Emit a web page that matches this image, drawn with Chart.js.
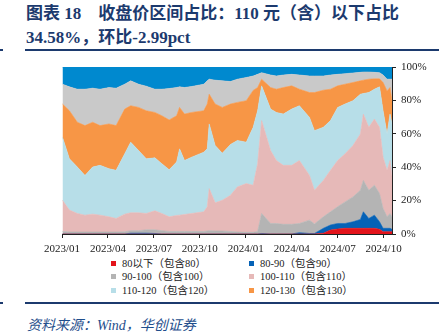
<!DOCTYPE html>
<html>
<head>
<meta charset="utf-8">
<script src="https://cdn.jsdelivr.net/npm/chart.js@4/dist/chart.umd.min.js"></script>
<style>
  html, body { margin: 0; padding: 0; background: #fff; }
  body { width: 445px; height: 334px; position: relative; overflow: hidden; }
  .title {
    position: absolute; left: 26px; top: 2px; width: 420px;
    font-family: 'Liberation Serif', 'Noto Sans CJK SC', serif;
    font-weight: bold; font-size: 17px; line-height: 24px; color: #1c3a6e;
    white-space: pre;
  }
  .rule { position: absolute; height: 2px; background: #1c3a6e; }
  #wrap { position: absolute; left: 0; top: 55px; width: 445px; height: 200px; }
  #legend {
    position: absolute; left: 111px; top: 257px; width: 300px;
    display: grid; grid-template-columns: 138px 150px; row-gap: 0;
    font-family: 'Liberation Serif', 'Noto Sans CJK SC', serif;
    font-size: 10.5px; line-height: 13.4px; color: #222;
  }
  #legend span.box { display: inline-block; width: 5px; height: 5px; margin-right: 6px; vertical-align: 1px; }
  .source {
    position: absolute; left: 27px; top: 314px;
    font-family: 'Liberation Serif', 'Noto Sans CJK SC', serif;
    font-style: italic; font-size: 14px; color: #1f4e8c;
  }
</style>
</head>
<body>
<div class="title">图表 18    收盘价区间占比：110 元（含）以下占比
34.58%，环比-2.99pct</div>
<div class="rule" style="left:0;top:49px;width:3px;"></div>
<div class="rule" style="left:25px;top:49px;width:414px;"></div>
<div id="wrap"><canvas id="areaChart"></canvas></div>
<div id="legend"></div>
<div class="rule" style="left:0;top:302px;width:3px;"></div>
<div class="rule" style="left:25px;top:302px;width:414px;"></div>
<div class="source">资料来源：Wind，华创证券</div>
<script>
// trading dates sampled from the chart
const dates = ['2023-01-02','2023-01-16','2023-02-01','2023-02-15','2023-03-01','2023-03-16','2023-04-03','2023-04-17',
  '2023-05-04','2023-05-16','2023-06-01','2023-06-16','2023-07-03','2023-07-17','2023-08-01','2023-08-16','2023-08-22',
  '2023-09-01','2023-09-15','2023-10-09','2023-10-16','2023-10-20','2023-11-01','2023-11-15','2023-12-01','2023-12-15',
  '2024-01-02','2024-01-16','2024-01-25','2024-02-02','2024-02-19','2024-03-01','2024-03-15','2024-04-01','2024-04-16',
  '2024-05-06','2024-05-16','2024-06-03','2024-06-17','2024-07-01','2024-07-16','2024-08-01','2024-08-16','2024-08-22',
  '2024-09-02','2024-09-13','2024-09-23','2024-09-30','2024-10-08','2024-10-14','2024-10-18'];

// share of each price bucket (%)
const below80 = [0,0,0,0,0,0,0,0, 0,0,0,0,0,0,0,0,0, 0,0,0,0,0,0,0,0,0,
  0,0,0,0,0,0,0,0,0, 0,0,0.5,2.4,3.0,3.4,3.4,3.4,3.4, 3.4,3.4,2.8,1.4,1.4,1.4,1.4];
const p80to90 = [0,0,0,0,0,0,0,0, 0,0.5,0.5,0.5,0.3,0,0,0,0, 0,0,0,0,0,0,0,0,0,
  0,0,0,0.3,0,0,0,0,0.8, 0.3,0.3,2.9,3.0,3.3,2.9,3.9,5.3,9.9, 5.9,7.9,4.5,2.0,2.0,2.0,1.4];
const p90to100 = [1.5,1.2,1.2,1.2,1.2,1.2,1.2,1.2, 1.3,1.5,1.5,2.0,2.2,2.0,1.5,1.5,1.5, 1.5,1.5,1.5,1.8,2.0,1.8,1.8,1.5,1.2,
  1.0,1.0,1.5,12.0,6.3,6.3,5.8,5.8,5.5, 8.0,5.7,6.9,7.9,10.0,12.9,14.9,17.5,18.8, 16.9,17.9,16.9,11.9,6.9,8.9,7.5];
const p100to110 = [18.7,13.1,11.1,10.1,10.7,10.1,9.1,8.1, 10.6,10.7,10.7,9.8,11.4,10.3,8.8,9.6,9.8, 10.2,10.8,11.8,14.5,25.2,16.9,18.4,21.7,27.0,
  29.2,28.2,40.6,55.6,43.7,37.7,35.3,35.3,37.7, 26.8,20.2,21.8,24.8,27.7,28.8,30.8,33.7,39.7, 37.7,39.6,39.7,30.7,27.8,31.7,24.3];
const p110to120 = [37.7,30.7,27.8,23.8,28.2,29.8,28.8,28.8, 36.1,42.3,37.3,32.7,31.7,29.8,28.2,32.0,39.7, 32.3,33.7,35.7,34.7,38.7,34.3,28.2,30.4,27.8,
  24.8,34.7,31.7,20.8,24.8,28.8,30.7,33.7,32.8, 34.7,35.7,31.8,29.8,31.8,29.8,26.8,23.8,12.3, 20.8,17.9,24.2,27.8,21.8,27.8,31.3];
const p120to130 = [19.9,28.8,26.8,29.8,26.8,23.8,26.8,26.8, 26.8,21.8,25.8,28.8,27.2,28.7,29.8,27.7,24.8, 27.8,26.8,24.8,26.8,17.8,24.8,27.4,24.2,22.8,
  24.8,22.1,13.9,4.0,12.9,13.9,15.9,13.9,9.9, 14.9,22.8,22.2,18.8,12.9,11.9,10.9,8.0,8.0, 8.0,6.2,4.8,16.9,25.8,15.9,13.9];
const p130to140 = [11.9,14.3,19.8,21.8,20.4,21.8,21.8,22.4, 14.9,14.9,13.9,14.7,13.9,15.9,18.8,16.9,12.3, 15.9,15.5,15.9,13.9,9.0,14.3,15.9,13.5,13.9,
  13.9,8.6,7.9,3.9,7.5,7.9,7.5,6.9,8.5, 9.9,9.9,8.5,8.5,6.9,6.3,5.7,5.1,4.9, 4.3,3.9,3.7,4.5,7.0,5.0,12.9];
const above140 = [10.3,11.9,13.3,13.3,12.7,13.3,12.3,12.7, 10.3,8.3,10.3,11.5,13.3,13.3,12.9,12.3,11.9, 12.3,11.7,10.3,8.3,7.3,7.9,8.3,8.7,7.3,
  6.3,5.4,4.4,3.4,4.8,5.4,4.8,4.4,4.8, 5.4,5.4,5.4,4.8,4.4,4.0,3.6,3.2,3.0, 3.0,3.2,3.4,4.8,7.3,7.3,7.3];

const seriesNames = ['80以下（包含80）','80-90（包含90）','90-100（包含100）','100-110（包含110）',
  '110-120（包含120）','120-130（包含130）','130-140（包含140）','140以上'];
const seriesColors = ['#e3141b','#0562b6','#b4b4b4','#e6b9b8','#b7dee8','#f79646','#c9c9c9','#0089cf'];
const legendCount = 6;
const xTickLabels = ['2023/01','2023/04','2023/07','2023/10','2024/01','2024/04','2024/07','2024/10'];

const fontFamily = "'Liberation Serif', 'Noto Sans CJK SC', serif";

// months since 2023/01 as x position
function monthPos(s) {
    const [y, m, d] = s.split('-').map(Number);
    const days = new Date(y, m, 0).getDate();
    return (y - 2023) * 12 + (m - 1) + (d - 1) / days;
}

document.addEventListener('DOMContentLoaded', function() {
    const xs = dates.map(monthPos);
    const values = [below80, p80to90, p90to100, p100to110, p110to120, p120to130, p130to140, above140];

    const datasets = values.map(function(arr, i) {
        return {
            label: seriesNames[i],
            data: arr.map((v, j) => ({ x: xs[j], y: v })),
            backgroundColor: seriesColors[i],
            borderColor: seriesColors[i],
            borderWidth: 0.6,
            pointRadius: 0,
            tension: 0,
            fill: i === 0 ? 'origin' : '-1'
        };
    });

    const ctx = document.getElementById('areaChart').getContext('2d');
    new Chart(ctx, {
        type: 'line',
        data: { datasets: datasets },
        options: {
            responsive: true,
            maintainAspectRatio: false,
            animation: false,
            layout: { padding: { left: 62, top: 12, right: 0, bottom: 0 } },
            plugins: {
                legend: { display: false },
                tooltip: { enabled: false }
            },
            scales: {
                x: {
                    type: 'linear',
                    min: 0,
                    max: xs[xs.length - 1],
                    afterBuildTicks: function(scale) {
                        scale.ticks = xTickLabels.map((t, i) => ({ value: i * 3 }));
                    },
                    afterFit: function(scale) { scale.height = 21; },
                    ticks: {
                        autoSkip: false,
                        maxRotation: 0,
                        padding: 5,
                        color: '#222',
                        font: { family: fontFamily, size: 11 },
                        callback: function(v) { return xTickLabels[Math.round(v / 3)]; }
                    },
                    grid: { drawOnChartArea: false, tickLength: 4, color: '#222' },
                    border: { color: '#222', width: 1 }
                },
                y: {
                    position: 'right',
                    stacked: true,
                    min: 0,
                    max: 100,
                    afterFit: function(scale) { scale.width = 53; },
                    ticks: {
                        stepSize: 20,
                        padding: 5,
                        color: '#222',
                        font: { family: fontFamily, size: 11 },
                        callback: function(v) { return v + '%'; }
                    },
                    grid: { drawOnChartArea: false, tickLength: 4, color: '#222' },
                    border: { color: '#222', width: 1 }
                }
            }
        }
    });

    // legend in two columns, first six buckets only
    const legend = document.getElementById('legend');
    for (let i = 0; i < legendCount; i++) {
        const item = document.createElement('div');
        item.innerHTML = '<span class="box" style="background:' + seriesColors[i] + '"></span>' + seriesNames[i];
        legend.appendChild(item);
    }
});
</script>
</body>
</html>
